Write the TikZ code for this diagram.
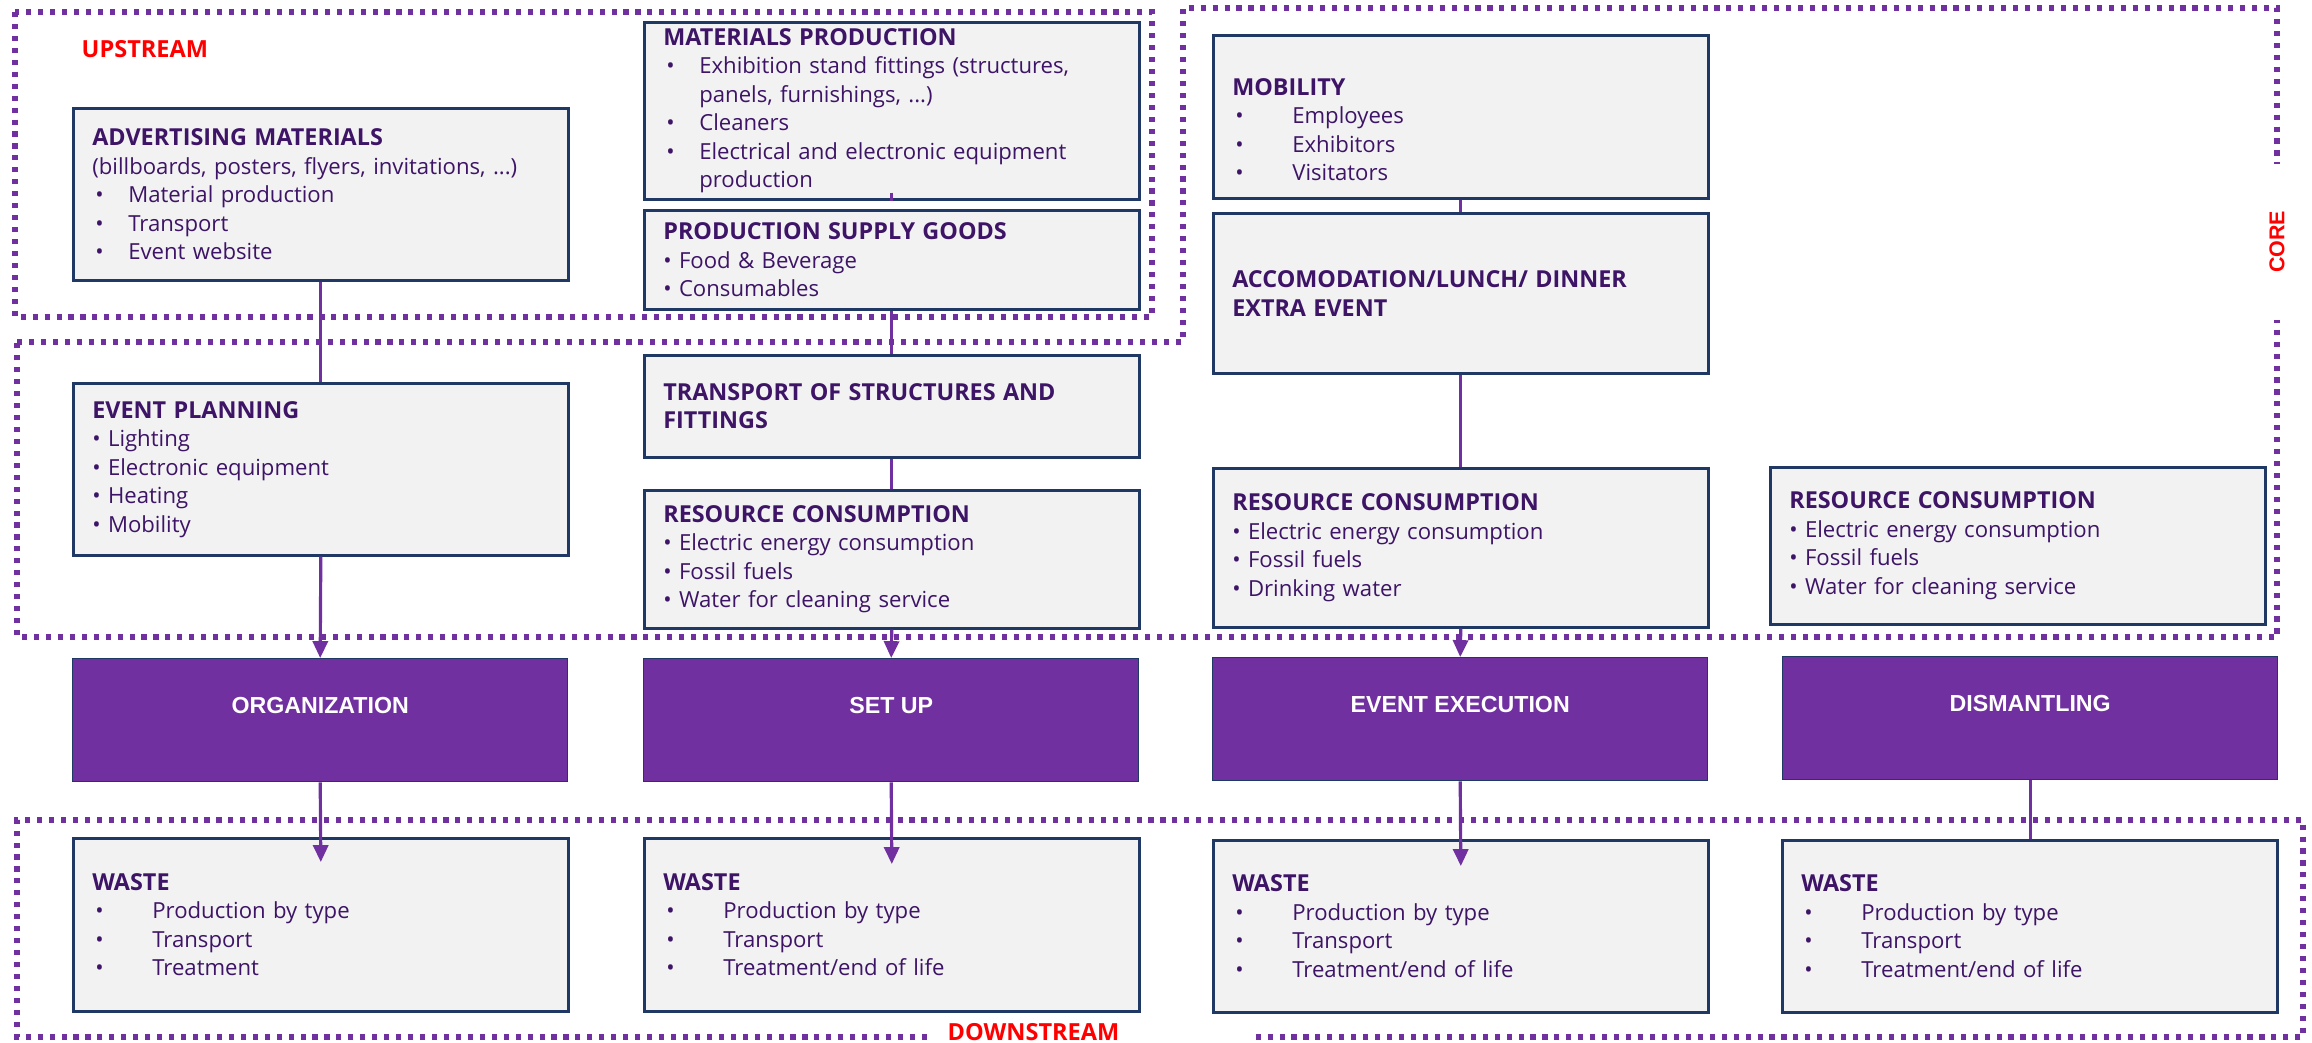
\documentclass[tikz,border=0pt]{standalone}
\usepackage{fontspec}
\setmainfont{Open Sans}
\newfontfamily\arialfont{Liberation Sans}
\usetikzlibrary{
    arrows.meta,           % Triangle arrow tips
    calc                   % Offsets from anchors
}
\definecolor{ink}{HTML}{3D1466}
\definecolor{phasecol}{HTML}{7030A0}
\definecolor{boxedge}{HTML}{1F3864}
\definecolor{boxfill}{HTML}{F2F2F2}
\newcommand{\bitem}[1]{\makebox[#1][l]{\hspace{0.03cm}\textbullet}}
\newcommand{\boxtitle}[1]{{\fontsize{6.65}{8.1}\selectfont\bfseries #1}}

\begin{document}
\begin{tikzpicture}[
    box/.style={draw=boxedge, line width=0.75pt, fill=boxfill, anchor=north west,
        minimum width=4.95cm, inner xsep=0.19cm, inner ysep=1pt, text width=4.57cm,
        align=left, text=ink, font=\fontsize{6.3}{8.1}\selectfont},
    phase/.style={draw=boxedge, line width=0.4pt, fill=phasecol, anchor=north west,
        minimum width=4.95cm, minimum height=1.23cm, text=white,
        font=\arialfont\bfseries\fontsize{6.6}{8}\selectfont,
        text height=0.17cm, text depth=0.31cm},
    region/.style={draw=phasecol, line width=1.45pt, dash pattern=on 1.45pt off 1.95pt},
    link/.style={draw=phasecol, line width=0.9pt},
    flow/.style={link, -{Triangle[width=4.3pt,length=4.8pt]}},
    tag/.style={text=red, font=\bfseries\fontsize{6.7}{7}\selectfont, inner sep=0pt}
]
    \useasboundingbox (0,0) rectangle (23.12,-10.43);

    \draw[region] (0.15,-0.12) rectangle (11.52,-3.17);
    \draw[region] (0.17,-3.42) -- (11.83,-3.42) -- (11.83,-0.08) -- (22.77,-0.08)
        -- (22.77,-6.37) -- (0.17,-6.37) -- cycle;
    \draw[region] (9.27,-10.37) -- (0.17,-10.37) -- (0.17,-8.20) -- (23.03,-8.20)
        -- (23.03,-10.37) -- (12.50,-10.37);

    \node[tag, anchor=base west] (up) at (0.81,-0.58) {UPSTREAM};
    \node[tag, anchor=base west] (down) at (9.47,-10.40) {DOWNSTREAM};
    \node[tag, font=\arialfont\bfseries\fontsize{6.1}{7}\selectfont, rotate=90,
        fill=white, inner xsep=0.47cm, inner ysep=0.05cm] (core) at (22.77,-2.42) {CORE};

    \node[box, minimum height=1.72cm] (adv) at (0.72,-1.07)
        {\boxtitle{ADVERTISING MATERIALS}\\(billboards, posters, flyers, invitations, ...)\\
         \bitem{0.36cm}Material production\\\bitem{0.36cm}Transport\\\bitem{0.36cm}Event website};
    \node[box, minimum height=1.77cm] (matprod) at (6.43,-0.21)
        {\boxtitle{MATERIALS PRODUCTION}\\
         \bitem{0.36cm}Exhibition stand fittings (structures,\\\hspace*{0.36cm}panels, furnishings, ...)\\
         \bitem{0.36cm}Cleaners\\
         \bitem{0.36cm}Electrical and electronic equipment\\\hspace*{0.36cm}production};
    \node[box, minimum height=0.99cm] (supply) at (6.43,-2.09)
        {\boxtitle{PRODUCTION SUPPLY GOODS}\\\textbullet~Food \& Beverage\\\textbullet~Consumables};
    \node[box, minimum height=1.63cm] (mob) at (12.12,-0.34)
        {\mbox{}\\[4pt]\boxtitle{MOBILITY}\\
         \bitem{0.6cm}Employees\\\bitem{0.6cm}Exhibitors\\\bitem{0.6cm}Visitators};
    \node[box, minimum height=1.60cm] (acc) at (12.12,-2.12)
        {\boxtitle{ACCOMODATION/LUNCH/ DINNER}\\\boxtitle{EXTRA EVENT}};

    \node[box, minimum height=1.72cm] (plan) at (0.72,-3.82)
        {\boxtitle{EVENT PLANNING}\\\textbullet~Lighting\\\textbullet~Electronic equipment\\
         \textbullet~Heating\\\textbullet~Mobility};
    \node[box, minimum height=1.02cm] (trans) at (6.43,-3.54)
        {\boxtitle{TRANSPORT OF STRUCTURES AND}\\\boxtitle{FITTINGS}};
    \node[box, minimum height=1.38cm] (res2) at (6.43,-4.89)
        {\boxtitle{RESOURCE CONSUMPTION}\\\textbullet~Electric energy consumption\\
         \textbullet~Fossil fuels\\\textbullet~Water for cleaning service};
    \node[box, minimum height=1.59cm] (res3) at (12.12,-4.67)
        {\boxtitle{RESOURCE CONSUMPTION}\\\textbullet~Electric energy consumption\\
         \textbullet~Fossil fuels\\\textbullet~Drinking water};
    \node[box, minimum height=1.57cm] (res4) at (17.69,-4.66)
        {\boxtitle{RESOURCE CONSUMPTION}\\\textbullet~Electric energy consumption\\
         \textbullet~Fossil fuels\\\textbullet~Water for cleaning service};

    \node[phase] (org) at (0.72,-6.58) {ORGANIZATION};
    \node[phase] (setup) at (6.43,-6.58) {SET UP};
    \node[phase] (exec) at (12.12,-6.57) {EVENT EXECUTION};
    \node[phase] (dism) at (17.82,-6.56) {DISMANTLING};

    \node[box, minimum height=1.73cm] (waste1) at (0.72,-8.37)
        {\boxtitle{WASTE}\\\bitem{0.6cm}Production by type\\\bitem{0.6cm}Transport\\\bitem{0.6cm}Treatment};
    \node[box, minimum height=1.73cm] (waste2) at (6.43,-8.37)
        {\boxtitle{WASTE}\\\bitem{0.6cm}Production by type\\\bitem{0.6cm}Transport\\\bitem{0.6cm}Treatment/end of life};
    \node[box, minimum height=1.72cm] (waste3) at (12.12,-8.39)
        {\boxtitle{WASTE}\\\bitem{0.6cm}Production by type\\\bitem{0.6cm}Transport\\\bitem{0.6cm}Treatment/end of life};
    \node[box, minimum height=1.72cm] (waste4) at (17.81,-8.39)
        {\boxtitle{WASTE}\\\bitem{0.6cm}Production by type\\\bitem{0.6cm}Transport\\\bitem{0.6cm}Treatment/end of life};

    \draw[link] (adv.south) -- (plan.north);
    \draw[flow] (plan.south) -- (org.north);
    \draw[flow] (org.south) -- ($(waste1.north)+(0,-0.25)$);

    \draw[link] ($(matprod.south)+(0,0.08)$) -- (matprod.south);
    \draw[link] (supply.south) -- (trans.north);
    \draw[link] (trans.south) -- (res2.north);
    \draw[flow] (res2.south) -- (setup.north);
    \draw[flow] (setup.south) -- ($(waste2.north)+(0,-0.27)$);

    \draw[link] (mob.south) -- (acc.north);
    \draw[link] (acc.south) -- (res3.north);
    \draw[flow] (res3.south) -- (exec.north);
    \draw[flow] (exec.south) -- ($(waste3.north)+(0,-0.27)$);

    \draw[link] (dism.south) -- (dism.south |- waste4.north);
\end{tikzpicture}
\end{document}
